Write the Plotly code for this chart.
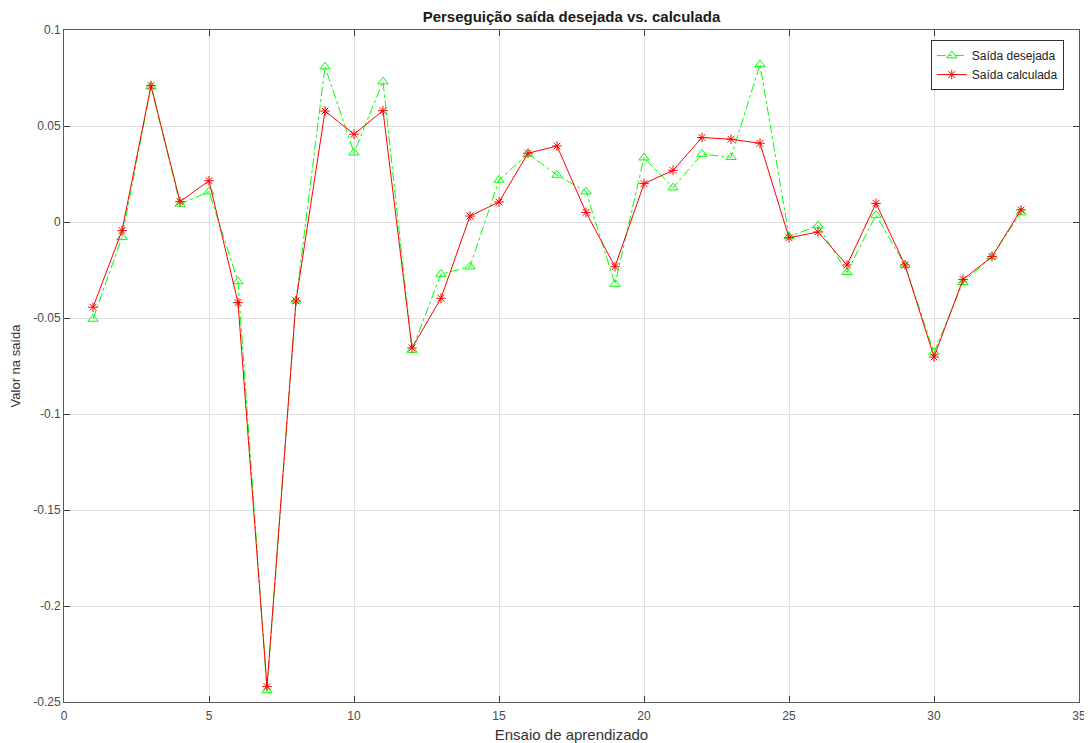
import plotly.graph_objects as go

ensaios = list(range(1, 34))
saida_desejada = [-0.0505, -0.0080, 0.0705, 0.0094, 0.0158, -0.0310, -0.2440, -0.0410,
                  0.0809, 0.0361, 0.0731, -0.0667, -0.0271, -0.0233, 0.0219, 0.0355,
                  0.0245, 0.0158, -0.0323, 0.0335, 0.0179, 0.0354, 0.0337, 0.0821,
                  -0.0076, -0.0019, -0.0262, 0.0036, -0.0224, -0.0680, -0.0314, -0.0180,
                  0.0049]
saida_calculada = [-0.0444, -0.0045, 0.0710, 0.0106, 0.0215, -0.0420, -0.2420, -0.0411,
                   0.0578, 0.0457, 0.0580, -0.0656, -0.0397, 0.0031, 0.0104, 0.0358,
                   0.0396, 0.0050, -0.0233, 0.0200, 0.0269, 0.0440, 0.0431, 0.0410,
                   -0.0082, -0.0052, -0.0224, 0.0097, -0.0224, -0.0703, -0.0299, -0.0180,
                   0.0063]

x_ticks = [0, 5, 10, 15, 20, 25, 30, 35]
y_ticks = [0.1, 0.05, 0, -0.05, -0.1, -0.15, -0.2, -0.25]
y_tick_text = ["0.1", "0.05", "0", "-0.05", "-0.1", "-0.15", "-0.2", "-0.25"]

FONT = "Liberation Sans, Arial, sans-serif"

fig = go.Figure()
fig.add_trace(go.Scatter(
    x=ensaios, y=saida_desejada, name="Saída desejada",
    mode="lines+markers",
    line=dict(color="#00ff00", width=1, dash="dashdot"),
    marker=dict(symbol="triangle-up-open", size=9, color="#00ff00", line=dict(width=1, color="#00ff00")),
))
fig.add_trace(go.Scatter(
    x=ensaios, y=saida_calculada, name="Saída calculada",
    mode="lines+markers",
    line=dict(color="#ff0000", width=1),
    marker=dict(symbol="asterisk-open", size=8, color="#ff0000", line=dict(width=1, color="#ff0000")),
))

axis_common = dict(
    showline=True, linecolor="#5a5a5a", linewidth=1, mirror="ticks",
    ticks="inside", ticklen=6, tickcolor="#3a3a3a",
    showgrid=True, gridcolor="#e0e0e0", gridwidth=1,
    zeroline=False, automargin=False,
    tickfont=dict(family=FONT, size=12, color="#4a4a4a"),
)

W, H = 1084, 735
fig.update_layout(
    width=W, height=H,
    paper_bgcolor="white", plot_bgcolor="white",
    margin=dict(l=56, r=13, t=22, b=41),
    title=dict(text="<b>Perseguição saída desejada vs. calculada</b>",
               x=563.5 / W, xanchor="center", y=1 - 9 / H, yanchor="middle",
               font=dict(family=FONT, size=15, color="#1a1a1a")),
    xaxis=dict(range=[0, 35], tickvals=x_ticks, ticklabelstandoff=3,
               title=dict(text="Ensaio de aprendizado",
                          font=dict(family=FONT, size=15, color="#333333")),
               **axis_common),
    yaxis=dict(range=[-0.25, 0.1], tickvals=y_ticks, ticktext=y_tick_text,
               title=dict(text="Valor na saída",
                          font=dict(family=FONT, size=13, color="#333333")),
               **axis_common),
    legend=dict(x=0.985, y=0.985, xanchor="right", yanchor="top",
                bgcolor="white", bordercolor="#333333", borderwidth=1,
                font=dict(family=FONT, size=12, color="#222222"),
                tracegroupgap=0, itemwidth=30),
    showlegend=True,
)

fig.write_html("out.html")
